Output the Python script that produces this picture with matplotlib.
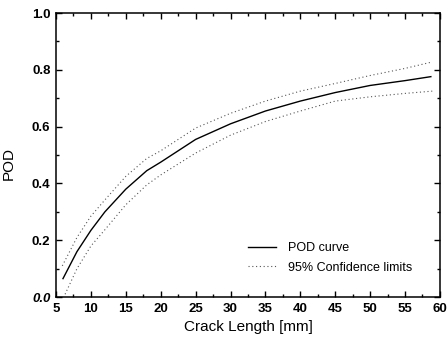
import matplotlib
matplotlib.use('Agg')
import matplotlib.pyplot as plt
from matplotlib.ticker import MultipleLocator

# POD curve and 95% confidence limits
crack = [6, 8, 10, 12, 15, 18, 20, 25, 30, 35, 40, 45, 50, 55, 58.7]
pod = [0.065, 0.16, 0.235, 0.30, 0.38, 0.445, 0.475, 0.555, 0.61, 0.655, 0.69, 0.72, 0.745, 0.762, 0.776]
crack_up = [5.9, 8, 10, 12, 15, 18, 20, 25, 30, 35, 40, 45, 50, 55, 58.6]
pod_up = [0.11, 0.21, 0.285, 0.342, 0.425, 0.488, 0.515, 0.595, 0.647, 0.69, 0.725, 0.752, 0.78, 0.805, 0.826]
crack_lo = [6.3, 8, 10, 12, 15, 18, 20, 25, 30, 35, 40, 45, 50, 55, 58.9]
pod_lo = [0.01, 0.10, 0.18, 0.237, 0.325, 0.395, 0.43, 0.507, 0.57, 0.618, 0.655, 0.69, 0.705, 0.717, 0.725]

plt.rcParams.update({'font.family': ['Liberation Sans', 'DejaVu Sans']})
fig = plt.figure(figsize=(4.48, 3.38), dpi=100, facecolor='white')
ax = fig.add_axes([0.125, 0.121, 0.857, 0.8405])

ax.plot(crack, pod, color='black', lw=1.0, label='POD curve')
dot = (0, (1, 2.4))
ax.plot(crack_up, pod_up, color='#555555', lw=0.8, ls=dot, label='95% Confidence limits')
ax.plot(crack_lo, pod_lo, color='#555555', lw=0.8, ls=dot)

ax.set_xlim(5, 60)
ax.set_ylim(0, 1.0)
ax.xaxis.set_major_locator(MultipleLocator(5))
ax.xaxis.set_minor_locator(MultipleLocator(2.5))
ax.yaxis.set_major_locator(MultipleLocator(0.2))
ax.yaxis.set_minor_locator(MultipleLocator(0.1))
ax.tick_params(which='both', direction='in', top=True, right=True, width=1)
ax.tick_params(which='major', length=4, labelsize=9.5, pad=4)
ax.tick_params(which='minor', length=2)
for s in ax.spines.values():
    s.set_linewidth(1.1)
for lbl in ax.get_xticklabels():
    lbl.set_fontweight('bold')
ax.set_yticks([0, 0.2, 0.4, 0.6, 0.8, 1.0], ['0.0', '0.2', '0.4', '0.6', '0.8', '1.0'], fontweight='bold')
ax.get_yticklabels()[0].set_fontstyle('italic')

ax.set_xlabel('Crack Length [mm]', fontsize=11)
ax.xaxis.set_label_coords(0.5, -0.082)
ax.xaxis.label.set_va('top')
ax.set_ylabel('POD', fontsize=11)
ax.yaxis.set_label_coords(-0.105, 0.47)

ax.legend(loc='upper left', bbox_to_anchor=(0.484, 0.215), frameon=False, fontsize=9,
          borderpad=0, handlelength=2.2, handletextpad=1.0, labelspacing=0.6)

fig.savefig('out.png', dpi=100, facecolor='white')
